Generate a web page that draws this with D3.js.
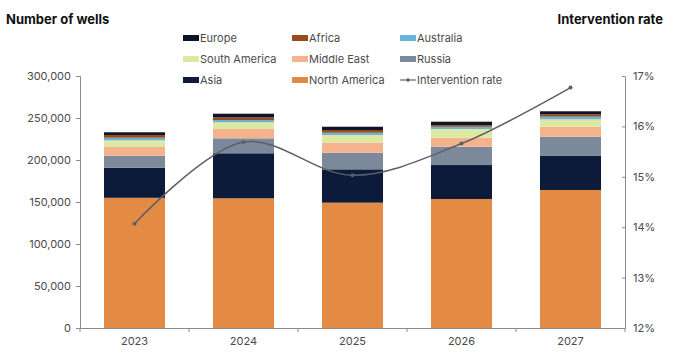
<!DOCTYPE html>
<html>
<head>
<meta charset="utf-8">
<script src="https://cdn.jsdelivr.net/npm/d3@7"></script>
<style>
  body { margin: 0; background: #fff; }
  svg text { font-family: Inter, "Liberation Sans", sans-serif; }
</style>
</head>
<body>
<div id="chart"></div>
<script>
const years = ["2023", "2024", "2025", "2026", "2027"];
// stack order, bottom to top
const regions = ["North America", "Asia", "Russia", "Middle East", "South America", "Australia", "Africa", "Europe"];
const northAmerica = [155000, 154400, 149200, 153600, 164300];
const asia         = [35700, 53600, 39700, 40400, 40500];
const russia       = [14400, 17800, 19800, 21800, 22900];
const middleEast   = [10400, 11100, 11900, 10700, 11900];
const southAmerica = [7900, 8000, 9200, 10400, 8900];
const australia    = [3100, 2700, 2700, 2700, 3100];
const africa       = [3300, 3200, 3200, 2100, 2800];
const europe       = [3200, 4300, 3900, 3900, 3600];
const interventionRate = [14.07, 15.69, 15.03, 15.66, 16.77];
const leftTicks  = [0, 50000, 100000, 150000, 200000, 250000, 300000];
const rightTicks = [12, 13, 14, 15, 16, 17];

const colors = {
  "North America": "#e38a45",
  "Asia": "#0d1b3b",
  "Russia": "#7c899b",
  "Middle East": "#f4b38d",
  "South America": "#dde8a3",
  "Australia": "#6ab2d8",
  "Africa": "#9a4b1d",
  "Europe": "#0b1428"
};

const seriesValues = {
  "North America": northAmerica, "Asia": asia, "Russia": russia, "Middle East": middleEast,
  "South America": southAmerica, "Australia": australia, "Africa": africa, "Europe": europe
};

const rows = years.map((y, i) => {
  const r = { year: y };
  regions.forEach(k => r[k] = seriesValues[k][i]);
  return r;
});

const W = 684, H = 356;
const margin = { top: 76, right: 59, bottom: 28, left: 80 };

const svg = d3.select("#chart").append("svg")
  .attr("width", W).attr("height", H);

const x = d3.scaleBand().domain(years).range([margin.left, W - margin.right]).paddingInner(0.44).paddingOuter(0.22);
const y = d3.scaleLinear().domain([0, 300000]).range([H - margin.bottom, margin.top]);
const y2 = d3.scaleLinear().domain([12, 17]).range([H - margin.bottom, margin.top]);

const stack = d3.stack().keys(regions)(rows);

svg.append("g").selectAll("g")
  .data(stack).enter().append("g")
  .attr("fill", d => colors[d.key])
  .selectAll("rect")
  .data(d => d).enter().append("rect")
  .attr("x", d => x(d.data.year))
  .attr("y", d => y(d[1]))
  .attr("width", x.bandwidth())
  .attr("height", d => y(d[0]) - y(d[1]));

// left axis
const axisColor = "#8a8a8a", labelColor = "#4a4a4a";
const gl = svg.append("g").attr("transform", `translate(${margin.left},0)`)
  .call(d3.axisLeft(y).tickValues(leftTicks).tickSize(4).tickPadding(5).tickFormat(d3.format(",")));
gl.select(".domain").attr("stroke", axisColor);
gl.selectAll(".tick line").attr("stroke", axisColor);
gl.selectAll("text").attr("fill", labelColor).style("font-size", "11px");

// right axis
const gr = svg.append("g").attr("transform", `translate(${W - margin.right},0)`)
  .call(d3.axisRight(y2).tickValues(rightTicks).tickSize(0).tickPadding(8).tickFormat(d => d + "%"));
gr.select(".domain").attr("stroke", axisColor);
gr.selectAll(".tick").append("line").attr("x1", -3).attr("x2", 0).attr("stroke", axisColor);
gr.selectAll("text").attr("fill", labelColor).style("font-size", "11px");

// x axis
const gx = svg.append("g").attr("transform", `translate(0,${H - margin.bottom})`)
  .call(d3.axisBottom(x).tickSize(0).tickPadding(9));
gx.select(".domain").attr("stroke", axisColor);
gx.selectAll("text").attr("fill", labelColor).style("font-size", "11px");
const step = x.step();
const bounds = d3.range(years.length + 1).map(i => margin.left + i * (W - margin.right - margin.left) / years.length);
gx.selectAll(".sep").data(bounds).enter().append("line")
  .attr("x1", d => d).attr("x2", d => d).attr("y1", 0).attr("y2", 4)
  .attr("stroke", axisColor);

// intervention rate line
const pts = years.map((yr, i) => [x(yr) + x.bandwidth() / 2, y2(interventionRate[i])]);
svg.append("path")
  .attr("d", d3.line().curve(d3.curveCatmullRom.alpha(0.5))(pts))
  .attr("fill", "none").attr("stroke", "#5b6068").attr("stroke-width", 1.5);
svg.append("g").selectAll("circle").data(pts).enter().append("circle")
  .attr("cx", d => d[0]).attr("cy", d => d[1]).attr("r", 2)
  .attr("fill", "#5b6068");

// titles
svg.append("text").attr("x", 6).attr("y", 24).text("Number of wells")
  .style("font-size", "13px").style("font-weight", "700").attr("fill", "#111");
svg.append("text").attr("x", 663).attr("y", 24).attr("text-anchor", "end").text("Intervention rate")
  .style("font-size", "13px").style("font-weight", "700").attr("fill", "#111");

// legend
const legendItems = ["Europe", "Africa", "Australia", "South America", "Middle East", "Russia", "Asia", "North America", "Intervention rate"];
const colX = [183, 292, 400], rowY = [38, 59, 80];
const lg = svg.append("g").selectAll("g").data(legendItems).enter().append("g")
  .attr("transform", (d, i) => `translate(${colX[i % 3]},${rowY[Math.floor(i / 3)]})`);
lg.each(function(d) {
  const g = d3.select(this);
  if (d === "Intervention rate") {
    g.append("line").attr("x1", 0).attr("x2", 16).attr("y1", 0).attr("y2", 0)
      .attr("stroke", "#5b6068").attr("stroke-width", 1.2);
    g.append("circle").attr("cx", 8).attr("cy", 0).attr("r", 1.8).attr("fill", "#5b6068");
  } else {
    g.append("rect").attr("x", 0).attr("y", -3).attr("width", 16).attr("height", 6).attr("fill", colors[d]);
  }
  g.append("text").attr("x", 17).attr("y", 0).attr("dy", "0.35em").text(d)
    .style("font-size", "11px").attr("fill", labelColor);
});
</script>
</body>
</html>
